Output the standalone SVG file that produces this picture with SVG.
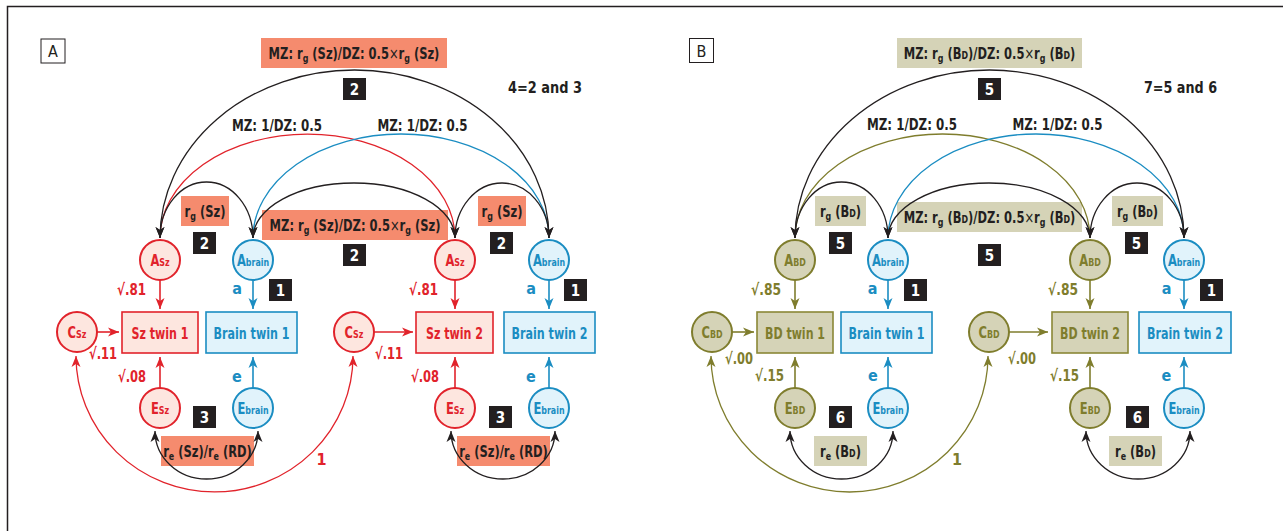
<svg xmlns="http://www.w3.org/2000/svg" width="1283" height="531" viewBox="0 0 1283 531">
<defs>
<style>
.f{font-family:'Liberation Sans Narrow','DejaVu Sans Condensed','Liberation Sans',sans-serif;font-weight:bold;font-stretch:condensed}
.lb{font-size:16px;fill:#231f20}
.sub{font-size:11px}
.cs{font-size:11px}
.cl{font-size:16px}
.num{font-size:15px;fill:#fff}
.red{fill:#e1232b}
.blue{fill:#1b8dc2}
.olive{fill:#7f7d2d}
.nb{fill:#231f20}
.sal{fill:#f58b6e}
.tan{fill:#d5d3b7}
.cr{fill:#fde6df;stroke:#e1232b;stroke-width:2}
.cb{fill:#e1f3fb;stroke:#1b8dc2;stroke-width:2}
.co{fill:#d5d3b7;stroke:#7f7d2d;stroke-width:2}
.br{fill:#fde6df;stroke:#e1232b;stroke-width:1.6}
.bb{fill:#e1f3fb;stroke:#1b8dc2;stroke-width:1.6}
.bo{fill:#d5d3b7;stroke:#8a8836;stroke-width:1.6}
.k{fill:none;stroke:#231f20;stroke-width:1.3}
.kr{fill:none;stroke:#e1232b;stroke-width:1.3}
.kb{fill:none;stroke:#1b8dc2;stroke-width:1.3}
.ko{fill:none;stroke:#7f7d2d;stroke-width:1.3}
.sr{fill:none;stroke:#e1232b;stroke-width:1.6}
.sb{fill:none;stroke:#1b8dc2;stroke-width:1.6}
.so{fill:none;stroke:#7f7d2d;stroke-width:1.6}
.x{font-weight:normal}
</style>
<marker id="mk" markerUnits="userSpaceOnUse" markerWidth="12" markerHeight="10" refX="11" refY="5" orient="auto-start-reverse"><path d="M0,0.5 L11,5 L0,9.5 L3,5 z" fill="#231f20"/></marker>
<marker id="mr" markerUnits="userSpaceOnUse" markerWidth="12" markerHeight="10" refX="11" refY="5" orient="auto-start-reverse"><path d="M0,0.5 L11,5 L0,9.5 L3,5 z" fill="#e1232b"/></marker>
<marker id="mb" markerUnits="userSpaceOnUse" markerWidth="12" markerHeight="10" refX="11" refY="5" orient="auto-start-reverse"><path d="M0,0.5 L11,5 L0,9.5 L3,5 z" fill="#1b8dc2"/></marker>
<marker id="mo" markerUnits="userSpaceOnUse" markerWidth="12" markerHeight="10" refX="11" refY="5" orient="auto-start-reverse"><path d="M0,0.5 L11,5 L0,9.5 L3,5 z" fill="#7f7d2d"/></marker>
</defs>
<rect width="1283" height="531" fill="#fff"/>
<path d="M7.5,531 L7.5,6.5 L1283,6.5" fill="none" stroke="#231f20" stroke-width="1.5"/>

<g id="panel-labels" class="f">
<rect x="41" y="39" width="24" height="24" fill="#fff" stroke="#231f20" stroke-width="1"/>
<text x="53" y="57" text-anchor="middle" font-size="16" font-weight="normal" fill="#231f20">A</text>
<rect x="689.5" y="38.5" width="24" height="24" fill="#fff" stroke="#231f20" stroke-width="1"/>
<text x="701.5" y="56.5" text-anchor="middle" font-size="16" font-weight="normal" fill="#231f20">B</text>
</g>

<g id="edge-label-boxes">
<rect class="sal" x="261" y="38" width="186" height="30"/>
<rect class="sal" x="262" y="210" width="186" height="30"/>
<rect class="sal" x="181" y="196" width="48" height="30"/>
<rect class="sal" x="478" y="196" width="48" height="30"/>
<rect class="sal" x="161" y="436" width="93" height="30"/>
<rect class="sal" x="457" y="436" width="93" height="30"/>
<rect class="tan" x="897" y="38" width="185" height="30"/>
<rect class="tan" x="897" y="202" width="185" height="30"/>
<rect class="tan" x="815" y="196" width="51" height="30"/>
<rect class="tan" x="1112" y="196" width="51" height="30"/>
<rect class="tan" x="814" y="436" width="53" height="30"/>
<rect class="tan" x="1109" y="436" width="53" height="30"/>
</g>

<g id="connectors">
<path class="kr" d="M160,238 A147.5,104 0 0 1 455,238"/>
<path class="kb" d="M253,238 A148,104 0 0 1 549,238"/>
<path class="k" d="M160,238 A194.5,168 0 0 1 549,238" marker-start="url(#mk)" marker-end="url(#mk)"/>
<path class="k" d="M160,238 A46.5,56 0 0 1 253,238" marker-start="url(#mk)" marker-end="url(#mk)"/>
<path class="k" d="M253,238 A101,55 0 0 1 455,238" marker-start="url(#mk)" marker-end="url(#mk)"/>
<path class="k" d="M455,238 A47,55 0 0 1 549,238" marker-start="url(#mk)" marker-end="url(#mk)"/>
<path class="sr" d="M160,280 L160,309" marker-end="url(#mr)"/>
<path class="sb" d="M253,280 L253,309" marker-end="url(#mb)"/>
<path class="sr" d="M97,332 L119,332" marker-end="url(#mr)"/>
<path class="sr" d="M160,388 L160,357" marker-end="url(#mr)"/>
<path class="sb" d="M253,388 L253,357" marker-end="url(#mb)"/>
<path class="sr" d="M455,280 L455,309" marker-end="url(#mr)"/>
<path class="sb" d="M549,280 L549,309" marker-end="url(#mb)"/>
<path class="sr" d="M374,332 L413,332" marker-end="url(#mr)"/>
<path class="sr" d="M455,388 L455,357" marker-end="url(#mr)"/>
<path class="sb" d="M549,388 L549,357" marker-end="url(#mb)"/>
<path class="k" d="M155,431 A51.5,48 0 0 0 258,431" marker-start="url(#mk)" marker-end="url(#mk)"/>
<path class="k" d="M451,431 A52,48 0 0 0 555,431" marker-start="url(#mk)" marker-end="url(#mk)"/>
<path class="kr" d="M76,356 A138.5,136 0 0 0 353,356" marker-start="url(#mr)" marker-end="url(#mr)"/>

<path class="ko" d="M795,238 A147.5,104 0 0 1 1090,238"/>
<path class="kb" d="M888,238 A148,104 0 0 1 1184,238"/>
<path class="k" d="M795,238 A194.5,168 0 0 1 1184,238" marker-start="url(#mk)" marker-end="url(#mk)"/>
<path class="k" d="M795,238 A46.5,56 0 0 1 888,238" marker-start="url(#mk)" marker-end="url(#mk)"/>
<path class="k" d="M888,238 A101,55 0 0 1 1090,238" marker-start="url(#mk)" marker-end="url(#mk)"/>
<path class="k" d="M1090,238 A47,55 0 0 1 1184,238" marker-start="url(#mk)" marker-end="url(#mk)"/>
<path class="so" d="M795,280 L795,309" marker-end="url(#mo)"/>
<path class="sb" d="M888,280 L888,309" marker-end="url(#mb)"/>
<path class="so" d="M732,332 L754,332" marker-end="url(#mo)"/>
<path class="so" d="M795,388 L795,357" marker-end="url(#mo)"/>
<path class="sb" d="M888,388 L888,357" marker-end="url(#mb)"/>
<path class="so" d="M1090,280 L1090,309" marker-end="url(#mo)"/>
<path class="sb" d="M1184,280 L1184,309" marker-end="url(#mb)"/>
<path class="so" d="M1009,332 L1048,332" marker-end="url(#mo)"/>
<path class="so" d="M1090,388 L1090,357" marker-end="url(#mo)"/>
<path class="sb" d="M1184,388 L1184,357" marker-end="url(#mb)"/>
<path class="k" d="M790,431 A51.5,48 0 0 0 893,431" marker-start="url(#mk)" marker-end="url(#mk)"/>
<path class="k" d="M1086,431 A52,48 0 0 0 1190,431" marker-start="url(#mk)" marker-end="url(#mk)"/>
<path class="ko" d="M711,356 A138.5,136 0 0 0 988,356" marker-start="url(#mo)" marker-end="url(#mo)"/>
</g>

<g id="A-Sz-1"><circle class="cr" cx="160" cy="260" r="20"/><text class="f cl red" transform="scale(0.8,1)" x="200" y="266" text-anchor="middle">A<tspan class="cs">Sz</tspan></text></g>
<g id="A-brain-1"><circle class="cb" cx="253" cy="260" r="20"/><text class="f cl blue" transform="scale(0.8,1)" x="316.25" y="266" text-anchor="middle">A<tspan class="cs">brain</tspan></text></g>
<g id="C-Sz-1"><circle class="cr" cx="77" cy="332" r="20"/><text class="f cl red" transform="scale(0.8,1)" x="96.25" y="338" text-anchor="middle">C<tspan class="cs">Sz</tspan></text></g>
<g id="E-Sz-1"><circle class="cr" cx="160" cy="408" r="20"/><text class="f cl red" transform="scale(0.8,1)" x="200" y="414" text-anchor="middle">E<tspan class="cs">Sz</tspan></text></g>
<g id="E-brain-1"><circle class="cb" cx="253" cy="408" r="20"/><text class="f cl blue" transform="scale(0.8,1)" x="316.25" y="414" text-anchor="middle">E<tspan class="cs">brain</tspan></text></g>
<g id="Sz-twin-1"><rect class="br" x="122" y="312" width="76" height="41"/><text class="f lb red" x="160" y="338.5" text-anchor="middle" textLength="57" lengthAdjust="spacingAndGlyphs">Sz twin 1</text></g>
<g id="Brain-twin-1-A"><rect class="bb" x="206" y="312" width="91" height="41"/><text class="f lb blue" x="251.5" y="338.5" text-anchor="middle" textLength="76" lengthAdjust="spacingAndGlyphs">Brain twin 1</text></g>
<g id="A-Sz-2"><circle class="cr" cx="455" cy="260" r="20"/><text class="f cl red" transform="scale(0.8,1)" x="568.75" y="266" text-anchor="middle">A<tspan class="cs">Sz</tspan></text></g>
<g id="A-brain-2"><circle class="cb" cx="549" cy="260" r="20"/><text class="f cl blue" transform="scale(0.8,1)" x="686.25" y="266" text-anchor="middle">A<tspan class="cs">brain</tspan></text></g>
<g id="C-Sz-2"><circle class="cr" cx="354" cy="332" r="20"/><text class="f cl red" transform="scale(0.8,1)" x="442.5" y="338" text-anchor="middle">C<tspan class="cs">Sz</tspan></text></g>
<g id="E-Sz-2"><circle class="cr" cx="455" cy="408" r="20"/><text class="f cl red" transform="scale(0.8,1)" x="568.75" y="414" text-anchor="middle">E<tspan class="cs">Sz</tspan></text></g>
<g id="E-brain-2"><circle class="cb" cx="549" cy="408" r="20"/><text class="f cl blue" transform="scale(0.8,1)" x="686.25" y="414" text-anchor="middle">E<tspan class="cs">brain</tspan></text></g>
<g id="Sz-twin-2"><rect class="br" x="416" y="312" width="77" height="41"/><text class="f lb red" x="454.5" y="338.5" text-anchor="middle" textLength="57" lengthAdjust="spacingAndGlyphs">Sz twin 2</text></g>
<g id="Brain-twin-2-A"><rect class="bb" x="504" y="312" width="91" height="41"/><text class="f lb blue" x="549.5" y="338.5" text-anchor="middle" textLength="76" lengthAdjust="spacingAndGlyphs">Brain twin 2</text></g>

<g id="A-BD-1"><circle class="co" cx="795" cy="260" r="20"/><text class="f cl olive" transform="scale(0.8,1)" x="993.75" y="266" text-anchor="middle">A<tspan class="cs">BD</tspan></text></g>
<g id="A-brain-1-B"><circle class="cb" cx="888" cy="260" r="20"/><text class="f cl blue" transform="scale(0.8,1)" x="1110" y="266" text-anchor="middle">A<tspan class="cs">brain</tspan></text></g>
<g id="C-BD-1"><circle class="co" cx="712" cy="332" r="20"/><text class="f cl olive" transform="scale(0.8,1)" x="890" y="338" text-anchor="middle">C<tspan class="cs">BD</tspan></text></g>
<g id="E-BD-1"><circle class="co" cx="795" cy="408" r="20"/><text class="f cl olive" transform="scale(0.8,1)" x="993.75" y="414" text-anchor="middle">E<tspan class="cs">BD</tspan></text></g>
<g id="E-brain-1-B"><circle class="cb" cx="888" cy="408" r="20"/><text class="f cl blue" transform="scale(0.8,1)" x="1110" y="414" text-anchor="middle">E<tspan class="cs">brain</tspan></text></g>
<g id="BD-twin-1"><rect class="bo" x="757" y="312" width="76" height="41"/><text class="f lb olive" x="795" y="338.5" text-anchor="middle" textLength="60" lengthAdjust="spacingAndGlyphs">BD twin 1</text></g>
<g id="Brain-twin-1-B"><rect class="bb" x="841" y="312" width="91" height="41"/><text class="f lb blue" x="886.5" y="338.5" text-anchor="middle" textLength="76" lengthAdjust="spacingAndGlyphs">Brain twin 1</text></g>
<g id="A-BD-2"><circle class="co" cx="1090" cy="260" r="20"/><text class="f cl olive" transform="scale(0.8,1)" x="1362.5" y="266" text-anchor="middle">A<tspan class="cs">BD</tspan></text></g>
<g id="A-brain-2-B"><circle class="cb" cx="1184" cy="260" r="20"/><text class="f cl blue" transform="scale(0.8,1)" x="1480" y="266" text-anchor="middle">A<tspan class="cs">brain</tspan></text></g>
<g id="C-BD-2"><circle class="co" cx="989" cy="332" r="20"/><text class="f cl olive" transform="scale(0.8,1)" x="1236.25" y="338" text-anchor="middle">C<tspan class="cs">BD</tspan></text></g>
<g id="E-BD-2"><circle class="co" cx="1090" cy="408" r="20"/><text class="f cl olive" transform="scale(0.8,1)" x="1362.5" y="414" text-anchor="middle">E<tspan class="cs">BD</tspan></text></g>
<g id="E-brain-2-B"><circle class="cb" cx="1184" cy="408" r="20"/><text class="f cl blue" transform="scale(0.8,1)" x="1480" y="414" text-anchor="middle">E<tspan class="cs">brain</tspan></text></g>
<g id="BD-twin-2"><rect class="bo" x="1052" y="312" width="76" height="41"/><text class="f lb olive" x="1090" y="338.5" text-anchor="middle" textLength="60" lengthAdjust="spacingAndGlyphs">BD twin 2</text></g>
<g id="Brain-twin-2-B"><rect class="bb" x="1139" y="312" width="92" height="41"/><text class="f lb blue" x="1185" y="338.5" text-anchor="middle" textLength="76" lengthAdjust="spacingAndGlyphs">Brain twin 2</text></g>

<g id="edge-label-texts" class="f lb">
<g transform="scale(0.8,1)">
<text x="442.5" y="59" text-anchor="middle">MZ: r<tspan class="sub" dy="3">g</tspan><tspan dy="-3"> (Sz)/DZ: 0.5<tspan class="x">×</tspan>r</tspan><tspan class="sub" dy="3">g</tspan><tspan dy="-3"> (Sz)</tspan></text>
<text x="443.75" y="231" text-anchor="middle">MZ: r<tspan class="sub" dy="3">g</tspan><tspan dy="-3"> (Sz)/DZ: 0.5<tspan class="x">×</tspan>r</tspan><tspan class="sub" dy="3">g</tspan><tspan dy="-3"> (Sz)</tspan></text>
<text x="256.25" y="217" text-anchor="middle">r<tspan class="sub" dy="3">g</tspan><tspan dy="-3"> (Sz)</tspan></text>
<text x="627.5" y="217" text-anchor="middle">r<tspan class="sub" dy="3">g</tspan><tspan dy="-3"> (Sz)</tspan></text>
<text x="259.375" y="457" text-anchor="middle">r<tspan class="sub" dy="3">e</tspan><tspan dy="-3"> (Sz)/r</tspan><tspan class="sub" dy="3">e</tspan><tspan dy="-3"> (RD)</tspan></text>
<text x="629.375" y="457" text-anchor="middle">r<tspan class="sub" dy="3">e</tspan><tspan dy="-3"> (Sz)/r</tspan><tspan class="sub" dy="3">e</tspan><tspan dy="-3"> (RD)</tspan></text>
<text x="1236.875" y="59" text-anchor="middle">MZ: r<tspan class="sub" dy="3">g</tspan><tspan dy="-3"> (B<tspan class="sub">D</tspan>)/DZ: 0.5<tspan class="x">×</tspan>r</tspan><tspan class="sub" dy="3">g</tspan><tspan dy="-3"> (B<tspan class="sub">D</tspan>)</tspan></text>
<text x="1236.875" y="223" text-anchor="middle">MZ: r<tspan class="sub" dy="3">g</tspan><tspan dy="-3"> (B<tspan class="sub">D</tspan>)/DZ: 0.5<tspan class="x">×</tspan>r</tspan><tspan class="sub" dy="3">g</tspan><tspan dy="-3"> (B<tspan class="sub">D</tspan>)</tspan></text>
<text x="1050.625" y="217" text-anchor="middle">r<tspan class="sub" dy="3">g</tspan><tspan dy="-3"> (B<tspan class="sub">D</tspan>)</tspan></text>
<text x="1421.875" y="217" text-anchor="middle">r<tspan class="sub" dy="3">g</tspan><tspan dy="-3"> (B<tspan class="sub">D</tspan>)</tspan></text>
<text x="1050.625" y="457" text-anchor="middle">r<tspan class="sub" dy="3">e</tspan><tspan dy="-3"> (B<tspan class="sub">D</tspan>)</tspan></text>
<text x="1419.375" y="457" text-anchor="middle">r<tspan class="sub" dy="3">e</tspan><tspan dy="-3"> (B<tspan class="sub">D</tspan>)</tspan></text>
</g>
<text x="277" y="131" text-anchor="middle" textLength="90" lengthAdjust="spacingAndGlyphs">MZ: 1/DZ: 0.5</text>
<text x="422.5" y="131" text-anchor="middle" textLength="90" lengthAdjust="spacingAndGlyphs">MZ: 1/DZ: 0.5</text>
<text x="912" y="130" text-anchor="middle" textLength="90" lengthAdjust="spacingAndGlyphs">MZ: 1/DZ: 0.5</text>
<text x="1057.5" y="130" text-anchor="middle" textLength="90" lengthAdjust="spacingAndGlyphs">MZ: 1/DZ: 0.5</text>
<text x="545" y="93" text-anchor="middle" textLength="74" lengthAdjust="spacingAndGlyphs">4=2 and 3</text>
<text x="1180.5" y="93" text-anchor="middle" textLength="73" lengthAdjust="spacingAndGlyphs">7=5 and 6</text>
</g>

<g id="path-coefficients" class="f lb">
<text class="red" x="146" y="295" text-anchor="end" textLength="29" lengthAdjust="spacingAndGlyphs">√.81</text>
<text class="red" x="117" y="359" text-anchor="end" textLength="28" lengthAdjust="spacingAndGlyphs">√.11</text>
<text class="red" x="146" y="382" text-anchor="end" textLength="28" lengthAdjust="spacingAndGlyphs">√.08</text>
<text class="blue" x="237" y="294" text-anchor="middle">a</text>
<text class="blue" x="237" y="382" text-anchor="middle">e</text>
<text class="red" x="438" y="295" text-anchor="end" textLength="29" lengthAdjust="spacingAndGlyphs">√.81</text>
<text class="red" x="403" y="359" text-anchor="end" textLength="28" lengthAdjust="spacingAndGlyphs">√.11</text>
<text class="red" x="439" y="382" text-anchor="end" textLength="28" lengthAdjust="spacingAndGlyphs">√.08</text>
<text class="blue" x="531" y="294" text-anchor="middle">a</text>
<text class="blue" x="531" y="382" text-anchor="middle">e</text>
<text class="red" x="321.5" y="465" text-anchor="middle">1</text>
<text class="olive" x="781" y="295" text-anchor="end" textLength="30" lengthAdjust="spacingAndGlyphs">√.85</text>
<text class="olive" x="753" y="364" text-anchor="end" textLength="28" lengthAdjust="spacingAndGlyphs">√.00</text>
<text class="olive" x="784" y="381" text-anchor="end" textLength="29" lengthAdjust="spacingAndGlyphs">√.15</text>
<text class="blue" x="872.5" y="294" text-anchor="middle">a</text>
<text class="blue" x="873" y="381" text-anchor="middle">e</text>
<text class="olive" x="1078" y="295" text-anchor="end" textLength="30" lengthAdjust="spacingAndGlyphs">√.85</text>
<text class="olive" x="1036" y="364" text-anchor="end" textLength="28" lengthAdjust="spacingAndGlyphs">√.00</text>
<text class="olive" x="1079" y="381" text-anchor="end" textLength="29" lengthAdjust="spacingAndGlyphs">√.15</text>
<text class="blue" x="1166.5" y="294" text-anchor="middle">a</text>
<text class="blue" x="1166.5" y="381" text-anchor="middle">e</text>
<text class="olive" x="957" y="465" text-anchor="middle">1</text>
</g>

<g id="number-tags" class="f">
<rect class="nb" x="343" y="78" width="23" height="22"/><text class="num" x="354.5" y="94.5" text-anchor="middle">2</text>
<rect class="nb" x="193" y="232" width="23" height="22"/><text class="num" x="204.5" y="248.5" text-anchor="middle">2</text>
<rect class="nb" x="343" y="244" width="23" height="22"/><text class="num" x="354.5" y="260.5" text-anchor="middle">2</text>
<rect class="nb" x="490" y="232" width="23" height="22"/><text class="num" x="501.5" y="248.5" text-anchor="middle">2</text>
<rect class="nb" x="269" y="279" width="23" height="22"/><text class="num" x="280.5" y="295.5" text-anchor="middle">1</text>
<rect class="nb" x="564" y="279" width="23" height="22"/><text class="num" x="575.5" y="295.5" text-anchor="middle">1</text>
<rect class="nb" x="193" y="406" width="23" height="22"/><text class="num" x="204.5" y="422.5" text-anchor="middle">3</text>
<rect class="nb" x="489" y="406" width="23" height="22"/><text class="num" x="500.5" y="422.5" text-anchor="middle">3</text>
<rect class="nb" x="978" y="78" width="23" height="22"/><text class="num" x="989.5" y="94.5" text-anchor="middle">5</text>
<rect class="nb" x="829" y="232" width="23" height="22"/><text class="num" x="840.5" y="248.5" text-anchor="middle">5</text>
<rect class="nb" x="978" y="244" width="23" height="22"/><text class="num" x="989.5" y="260.5" text-anchor="middle">5</text>
<rect class="nb" x="1125" y="232" width="23" height="22"/><text class="num" x="1136.5" y="248.5" text-anchor="middle">5</text>
<rect class="nb" x="904" y="279" width="23" height="22"/><text class="num" x="915.5" y="295.5" text-anchor="middle">1</text>
<rect class="nb" x="1200" y="279" width="23" height="22"/><text class="num" x="1211.5" y="295.5" text-anchor="middle">1</text>
<rect class="nb" x="829" y="406" width="23" height="22"/><text class="num" x="840.5" y="422.5" text-anchor="middle">6</text>
<rect class="nb" x="1126" y="406" width="23" height="22"/><text class="num" x="1137.5" y="422.5" text-anchor="middle">6</text>
</g>
</svg>
